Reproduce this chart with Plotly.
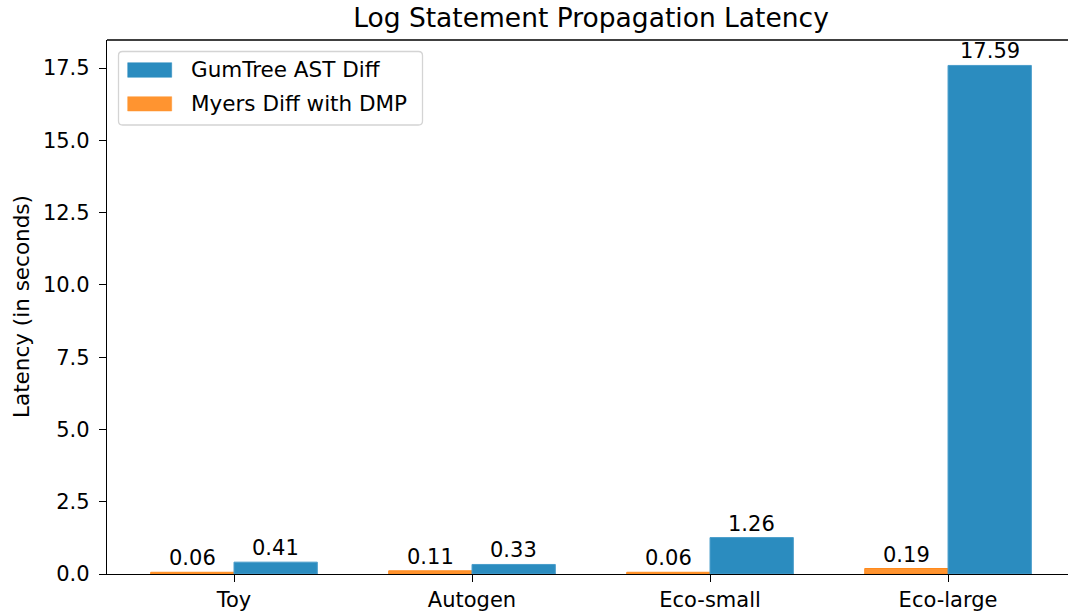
import plotly.graph_objects as go

categories = ["Toy", "Autogen", "Eco-small", "Eco-large"]
gumtree = [0.41, 0.33, 1.26, 17.59]
myers = [0.06, 0.11, 0.06, 0.19]
series_names = ["GumTree AST Diff", "Myers Diff with DMP"]
y_ticks = [0.0, 2.5, 5.0, 7.5, 10.0, 12.5, 15.0, 17.5]

BLUE = "#2b8cbf"
ORANGE = "#ff9430"
FONT = "DejaVu Sans"
FS = 21

W, H = 1068, 616
L, R, T, B = 107, 0, 40, 42
PW, PH = W - L - R, H - T - B


def px(xp):
    return (xp - L) / PW


def py(yp):
    return (H - B - yp) / PH


xs = list(range(len(categories)))
w = 0.35

fig = go.Figure()
fig.add_trace(go.Bar(
    x=xs, y=myers, width=w, offset=-w, name=series_names[1],
    marker=dict(color=ORANGE, line=dict(color="#ff8a1c", width=1)),
    showlegend=False,
))
fig.add_trace(go.Bar(
    x=xs, y=gumtree, width=w, offset=0, name=series_names[0],
    marker=dict(color=BLUE, line=dict(color="#4a9dcb", width=1)),
    showlegend=False,
))

for i, v in enumerate(myers):
    fig.add_annotation(x=xs[i] - w / 2, y=v, text=f"{v:.2f}", showarrow=False,
                       yanchor="bottom", xanchor="center", yshift=0,
                       font=dict(family=FONT, size=FS, color="black"))
for i, v in enumerate(gumtree):
    fig.add_annotation(x=xs[i] + w / 2, y=v, text=f"{v:.2f}", showarrow=False,
                       yanchor="bottom", xanchor="center", yshift=0,
                       font=dict(family=FONT, size=FS, color="black"))

# y-axis title
fig.add_annotation(xref="paper", yref="paper", x=px(21), y=0.5,
                   text="Latency (in seconds)", textangle=-90, showarrow=False,
                   xanchor="center", yanchor="middle",
                   font=dict(family=FONT, size=FS + 0.5, color="black"))

# top spine
fig.add_shape(type="line", xref="paper", yref="paper", x0=0, x1=1, y0=1, y1=1,
              line=dict(color="black", width=1.3))

# custom legend (matplotlib style)
bx0, bx1, by0, by1, r = 118.5, 422.5, 51.5, 125, 4
path = (f"M {px(bx0 + r)} {py(by0)} L {px(bx1 - r)} {py(by0)} "
        f"Q {px(bx1)} {py(by0)} {px(bx1)} {py(by0 + r)} "
        f"L {px(bx1)} {py(by1 - r)} Q {px(bx1)} {py(by1)} {px(bx1 - r)} {py(by1)} "
        f"L {px(bx0 + r)} {py(by1)} Q {px(bx0)} {py(by1)} {px(bx0)} {py(by1 - r)} "
        f"L {px(bx0)} {py(by0 + r)} Q {px(bx0)} {py(by0)} {px(bx0 + r)} {py(by0)} Z")
fig.add_shape(type="path", xref="paper", yref="paper", path=path,
              fillcolor="rgba(255,255,255,0.8)", line=dict(color="#d4d4d4", width=1.3))
legend_items = [(series_names[0], BLUE, 62.7, 77.3, 69.5),
                (series_names[1], ORANGE, 96.7, 111.0, 103.5)]
for name, col, s0, s1, ty in legend_items:
    fig.add_shape(type="rect", xref="paper", yref="paper",
                  x0=px(127.7), x1=px(171.7), y0=py(s1), y1=py(s0),
                  fillcolor=col, line=dict(color=col, width=0.5))
    fig.add_annotation(xref="paper", yref="paper", x=px(189), y=py(ty),
                       text=name, showarrow=False, xanchor="left", yanchor="middle",
                       font=dict(family=FONT, size=FS + 0.5, color="black"))

fig.update_layout(
    width=W, height=H,
    margin=dict(l=L, r=R, t=T, b=B, pad=0),
    paper_bgcolor="white", plot_bgcolor="white",
    title=dict(text="Log Statement Propagation Latency", x=591 / W, xanchor="center",
               xref="container", y=1 - 18 / H, yanchor="middle", yref="container",
               font=dict(family=FONT, size=26.5, color="black")),
    font=dict(family=FONT, size=FS, color="black"),
    barmode="overlay",
    showlegend=False,
    xaxis=dict(range=[-0.5336, 3.504], tickvals=xs, ticktext=categories,
               showline=True, linecolor="black", linewidth=1.3,
               ticks="outside", ticklen=7, tickwidth=1.3, tickcolor="black",
               showgrid=False, zeroline=False, fixedrange=True),
    yaxis=dict(range=[0, 18.47], tickvals=y_ticks,
               ticktext=[f"{t:.1f}" for t in y_ticks],
               showline=True, linecolor="black", linewidth=1.3,
               ticks="outside", ticklen=7, tickwidth=1.3, tickcolor="black",
               ticklabelstandoff=5,
               showgrid=False, zeroline=False, fixedrange=True),
)

fig.write_html(
    "out.html",
    config={"displayModeBar": False},
    post_script="document.body.style.margin='0';document.body.style.overflow='hidden';",
)
